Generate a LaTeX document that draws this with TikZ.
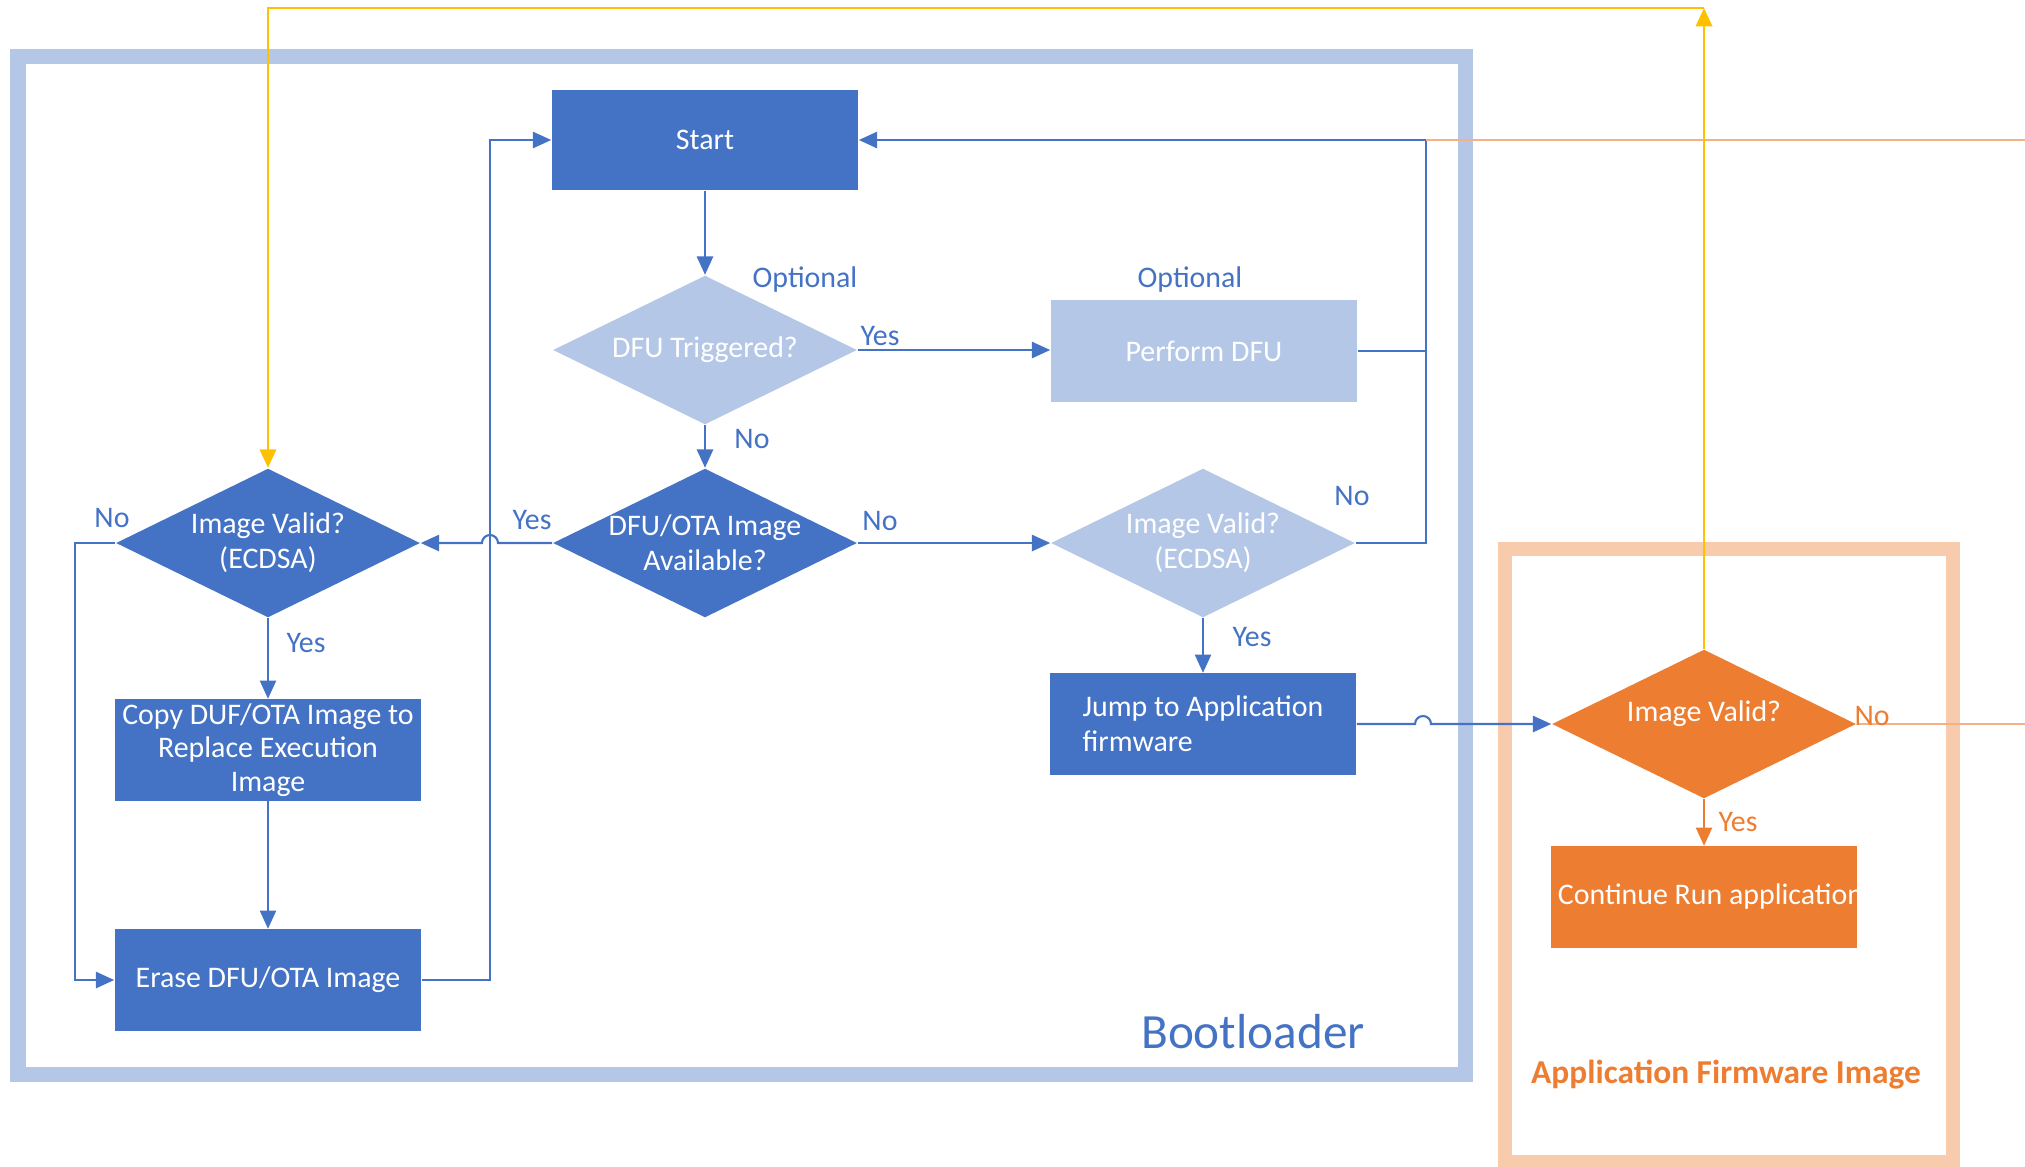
\documentclass[tikz,border=0pt]{standalone}
\usepackage{fontspec}
\setmainfont{Carlito}
\usepackage{tikz}
\usetikzlibrary{shapes.geometric,arrows.meta}
\definecolor{bdark}{HTML}{4472C4}
\definecolor{blight}{HTML}{B4C7E7}
\definecolor{oran}{HTML}{ED7D31}
\definecolor{olight}{HTML}{F8CBAD}
\definecolor{oline}{HTML}{F4B183}
\definecolor{yel}{HTML}{FFC000}

\begin{document}
\begin{tikzpicture}[x=0.01cm, y=-0.01cm, font=\fontsize{8.5}{10}\selectfont,
	box/.style = {fill=bdark, text=white, align=center, minimum width=3.06cm, minimum height=1.01cm, inner sep=2pt},
	dia/.style = {diamond, fill=bdark, minimum width=3.04cm, minimum height=1.49cm, inner sep=0pt},
	lbl/.style = {text=bdark, inner sep=0pt},
	olbl/.style = {text=oran, inner sep=0pt},
	con/.style = {draw=bdark, line width=0.6pt},
	arr/.style = {con, -{Triangle[length=5.2pt, width=4.6pt]}},
	ocon/.style = {draw=oline, line width=0.6pt},
	oarr/.style = {draw=oran, line width=0.6pt, -{Triangle[length=5.2pt, width=4.6pt]}},
	yarr/.style = {draw=yel, line width=0.8pt, -{Triangle[length=5.2pt, width=4.6pt]}},
	]
	\useasboundingbox (0,0) rectangle (2025,1166);
	\draw [blight, line width=0.15cm] (18,56) rectangle (1465,1074);
	\draw [olight, line width=0.14cm] (1505,549) rectangle (1953,1162);

	\node [box, minimum height=1cm] (start) at (705,140) {Start};
	\node [dia, fill=blight, label={[text=white]center:DFU Triggered?}] (dtrig) at (705,350) {};
	\node [box, fill=blight] (dfu) at (1204,351) {Perform DFU};
	\node [dia, label={[text=white, align=center]center:DFU/OTA Image\\Available?}] (dota) at (705,543) {};
	\node [dia, label={[text=white, align=center]center:Image Valid?\\(ECDSA)}] (ivl) at (268,543) {};
	\node [dia, fill=blight, label={[text=white, align=center]center:Image Valid?\\(ECDSA)}] (ivr) at (1203,543) {};
	\node [box, inner sep=0pt, font=\fontsize{8.5}{9.6}\selectfont] (copy) at (268,750) {Copy DUF/OTA Image to\\Replace Execution\\Image};
	\node [box] (erase) at (268,980) {Erase DFU/OTA Image};
	\node [box, align=left] (jump) at (1203,724) {Jump to Application\\ firmware};
	\node [dia, fill=oran, label={[text=white, yshift=0.1cm]center:Image Valid?}] (avl) at (1704,724) {};
	\node [box, fill=oran] (cont) at (1704,897) {\makebox[2.92cm][l]{Continue Run application}};

	\coordinate (loopc) at (1426,140);
	\coordinate (ytop) at (1704,8);
	\coordinate (ocor) at (2025,140);
	\coordinate (oend) at (2025,724);

	\draw [arr] (start) -- (dtrig);
	\draw [arr] (dtrig) -- (dota);
	\draw [arr] (dtrig.east) -- (dtrig.east -| dfu.west);
	\draw [arr] (dota.east) -- (ivr.west);
	\draw [arr] (dota.west) -- (498,543) arc[start angle=0, end angle=-180, radius=8] -- (ivl.east);
	\draw [arr] (ivl) -- (copy);
	\draw [arr] (copy) -- (erase);
	\draw [arr] (ivl.west) -- ++(-40,0) |- (erase.west);
	\draw [arr] (erase.east) -- ++(68,0) |- (start.west);
	\draw [con] (dfu.east) -- (dfu.east -| loopc);
	\draw [arr] (ivr.east) -| (loopc) -- (start.east);
	\draw [arr] (ivr) -- (jump);
	\draw [arr] (jump.east) -- (1415,724) arc[start angle=180, end angle=360, radius=8] -- (avl.west);
	\draw [oarr] (avl) -- (cont);
	\draw [ocon] (avl.east) -- (oend);
	\draw [ocon] (loopc) -- (ocor);
	\draw [yarr] (avl.north) -- (ytop);
	\draw [yarr] (ytop) -| (ivl.north);

	\node [lbl] (opt1) at (805,280) {Optional};
	\node [lbl] (opt2) at (1190,280) {Optional};
	\node [lbl] (yes1) at (880,336) {Yes};
	\node [lbl] (no1) at (752,439) {No};
	\node [lbl] (yes2) at (532,520) {Yes};
	\node [lbl] (no2) at (880,521) {No};
	\node [lbl] (no3) at (112,518) {No};
	\node [lbl] (yes3) at (306,643) {Yes};
	\node [lbl] (no4) at (1352,496) {No};
	\node [lbl] (yes4) at (1252,637) {Yes};
	\node [olbl] (no5) at (1872,716) {No};
	\node [olbl] (yes5) at (1738,822) {Yes};
	\node [lbl, font=\fontsize{14}{16}\selectfont] (boot) at (1253,1032) {Bootloader};
	\node [olbl, font=\fontsize{9.5}{11}\selectfont\bfseries] (appimg) at (1726,1075) {Application Firmware Image};
\end{tikzpicture}
\end{document}
